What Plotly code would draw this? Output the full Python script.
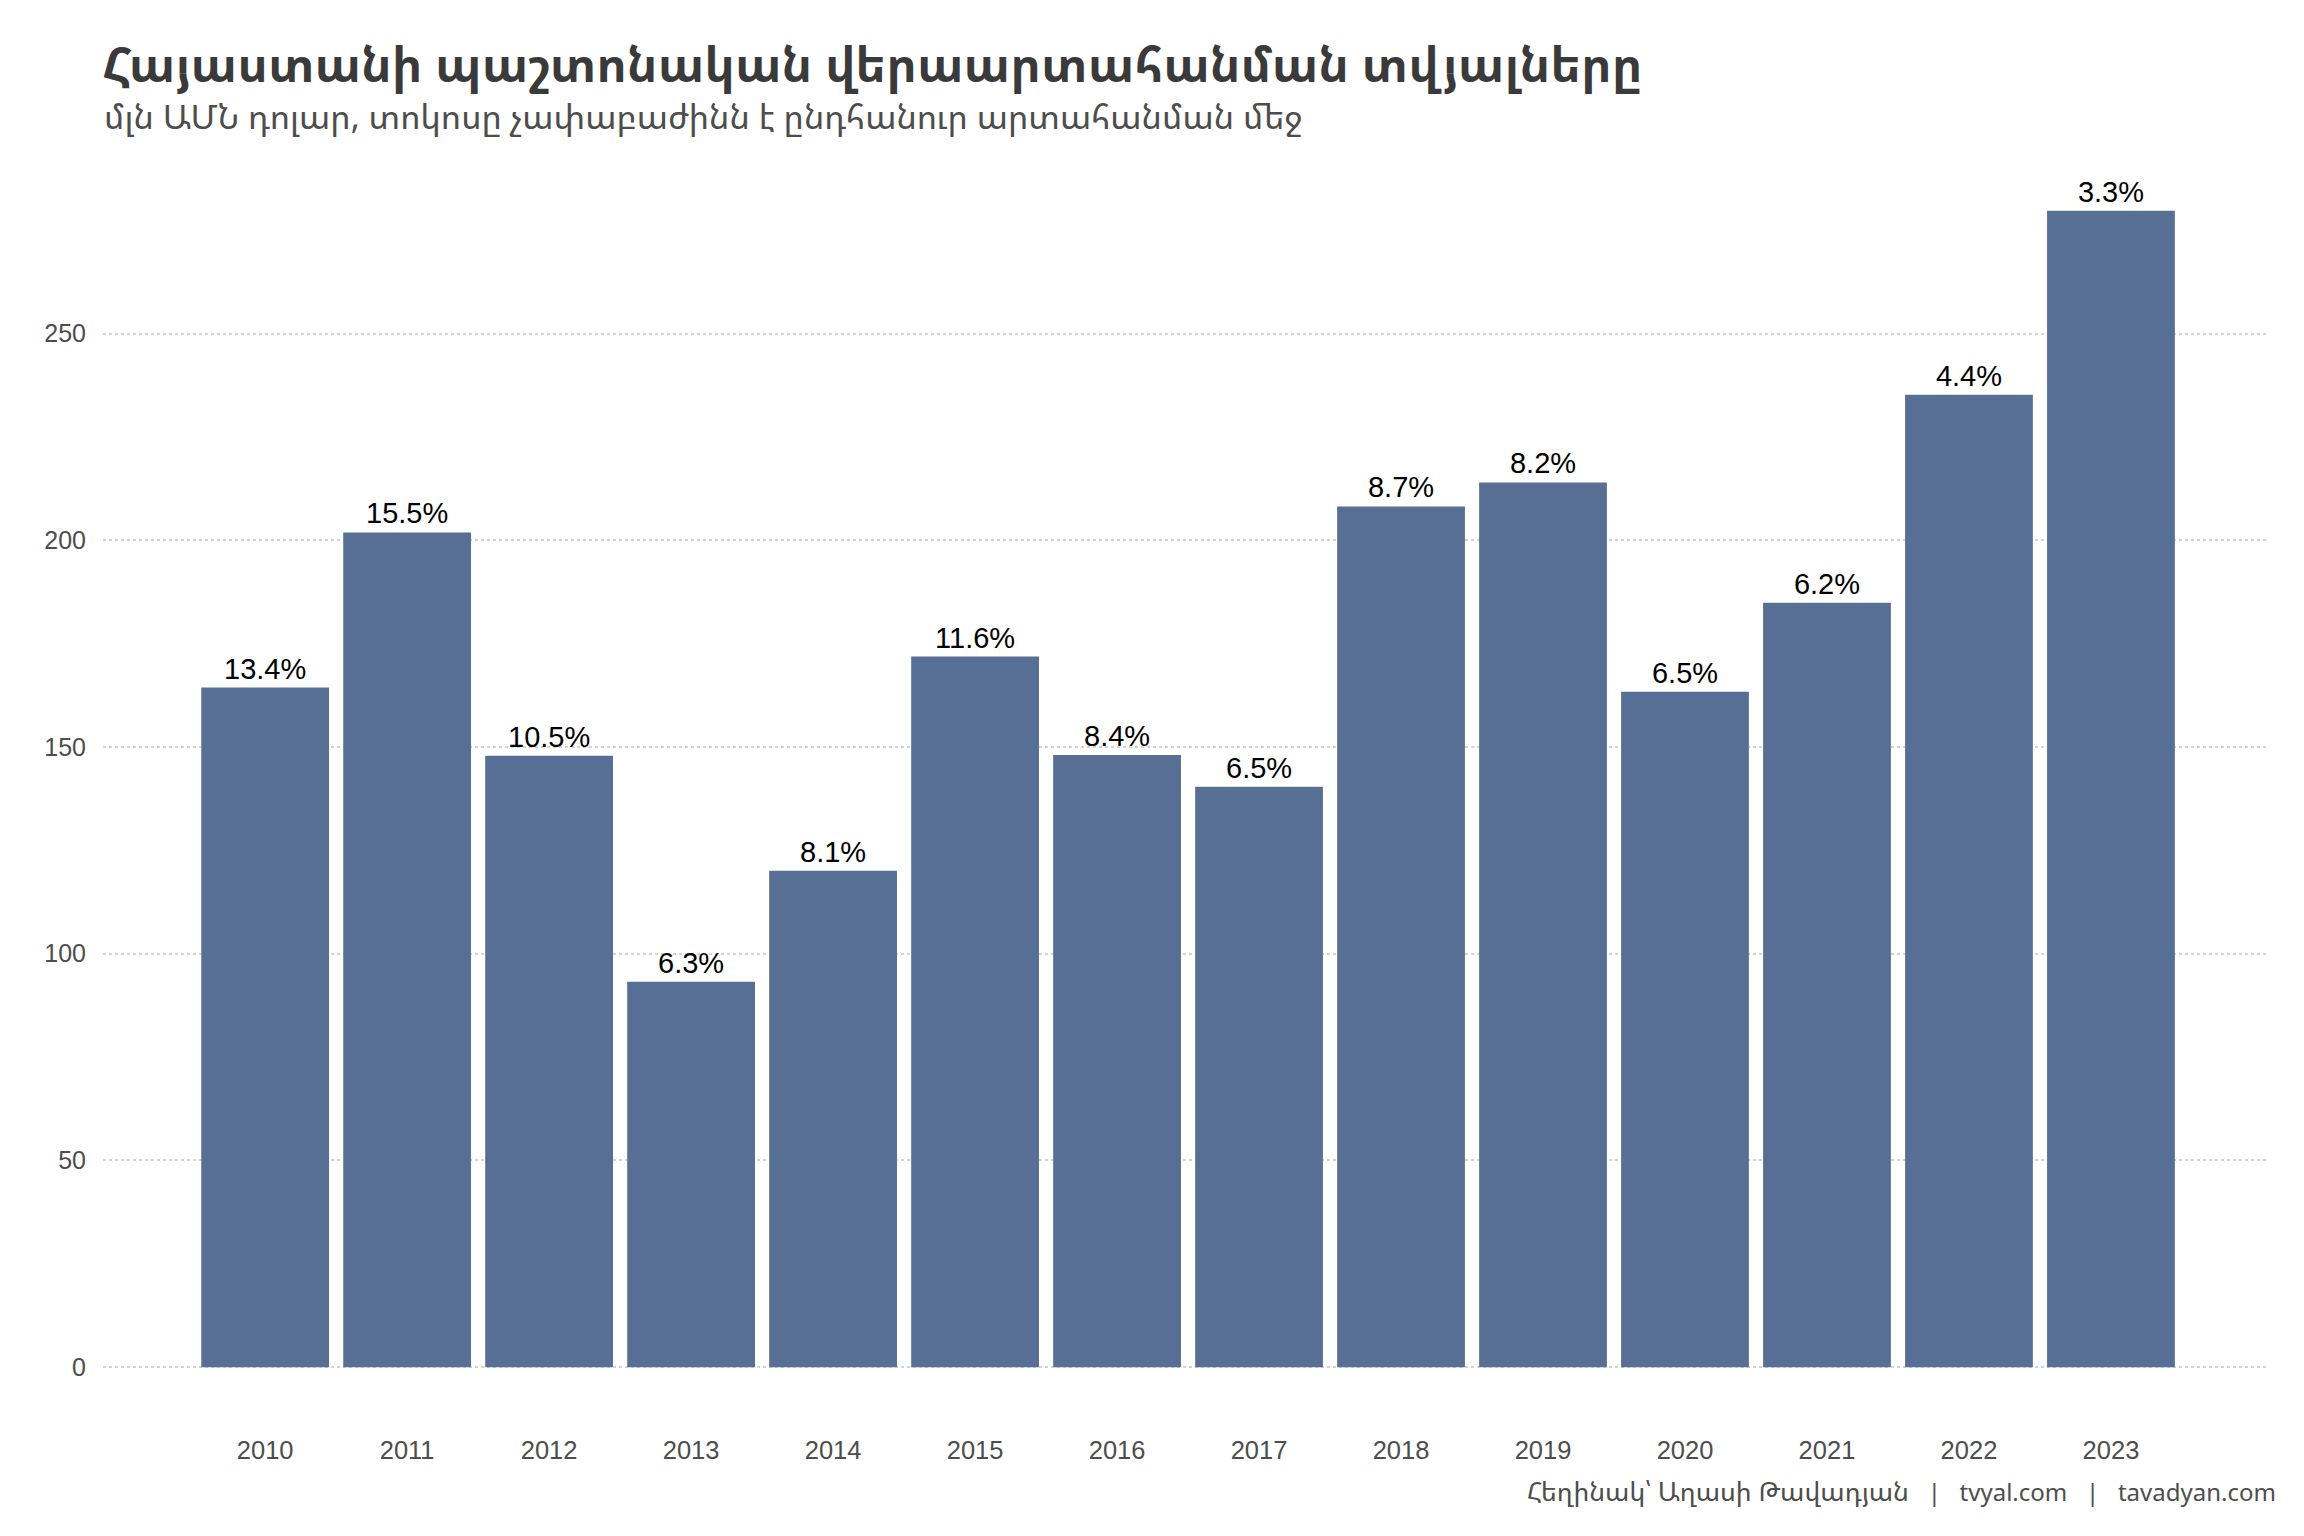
import plotly.graph_objects as go

years = ["2010", "2011", "2012", "2013", "2014", "2015", "2016",
         "2017", "2018", "2019", "2020", "2021", "2022", "2023"]
reexports = [164.4, 201.9, 147.9, 93.2, 120.1, 171.9, 148.1,
             140.4, 208.2, 214.0, 163.4, 184.9, 235.2, 279.7]
share_labels = ["13.4%", "15.5%", "10.5%", "6.3%", "8.1%", "11.6%", "8.4%",
                "6.5%", "8.7%", "8.2%", "6.5%", "6.2%", "4.4%", "3.3%"]
y_ticks = [0, 50, 100, 150, 200, 250]

title_text = "Հայաստանի պաշտոնական վերաարտահանման տվյալները"
subtitle_text = "մլն ԱՄՆ դոլար, տոկոսը չափաբաժինն է ընդհանուր արտահանման մեջ"
caption_author = "Հեղինակ՝ Աղասի Թավադյան"
caption_sites = "   |   tvyal.com   |   tavadyan.com"

W, H = 2304, 1536
L, R, T, B = 95, 46, 145, 119

ARM = "Noto Sans Armenian, DejaVu Sans, sans-serif"
SANS = "Liberation Sans, Arial, Helvetica, sans-serif"

fig = go.Figure()
fig.add_trace(go.Bar(
    x=years, y=reexports,
    marker=dict(color="#576f95", line=dict(width=0)),
    text=share_labels, textposition="outside",
    textfont=dict(family=SANS, size=29, color="#000000"),
    cliponaxis=False,
    hoverinfo="skip",
))

fig.update_layout(
    width=W, height=H,
    margin=dict(l=L, r=R, t=T, b=B, autoexpand=False),
    paper_bgcolor="white", plot_bgcolor="white",
    bargap=0.1,
    showlegend=False,
    xaxis=dict(
        type="category",
        range=[-1.142, 14.092],
        showgrid=False, zeroline=False, showline=False, ticks="",
        tickfont=dict(family=SANS, size=25.5, color="#4d4d4d"),
        ticklabelstandoff=7,
    ),
    yaxis=dict(
        range=[-14, 293.7],
        tickvals=y_ticks,
        showgrid=True, gridcolor="#d3d3d3", gridwidth=2, griddash="dot",
        zeroline=False, showline=False, ticks="",
        tickfont=dict(family=SANS, size=25, color="#4d4d4d"),
        ticklabelstandoff=16,
    ),
    annotations=[
        dict(text="<b>" + title_text + "</b>", xref="paper", yref="paper",
             x=0, y=1, xanchor="left", yanchor="middle", xshift=-3, yshift=90,
             showarrow=False, font=dict(family=ARM, size=48, color="#3a3a3a")),
        dict(text=subtitle_text, xref="paper", yref="paper",
             x=0, y=1, xanchor="left", yanchor="middle", xshift=-1, yshift=37,
             showarrow=False, font=dict(family=ARM, size=34, color="#4d4d4d")),
        dict(text=("<span style='font-size:26.5px'>" + caption_author + "</span>"
                   + caption_sites),
             xref="paper", yref="paper",
             x=1, y=0, xanchor="right", yanchor="middle", xshift=12, yshift=-66,
             showarrow=False, font=dict(family=ARM, size=24, color="#4d4d4d")),
    ],
)

fig.write_html("out.html")
